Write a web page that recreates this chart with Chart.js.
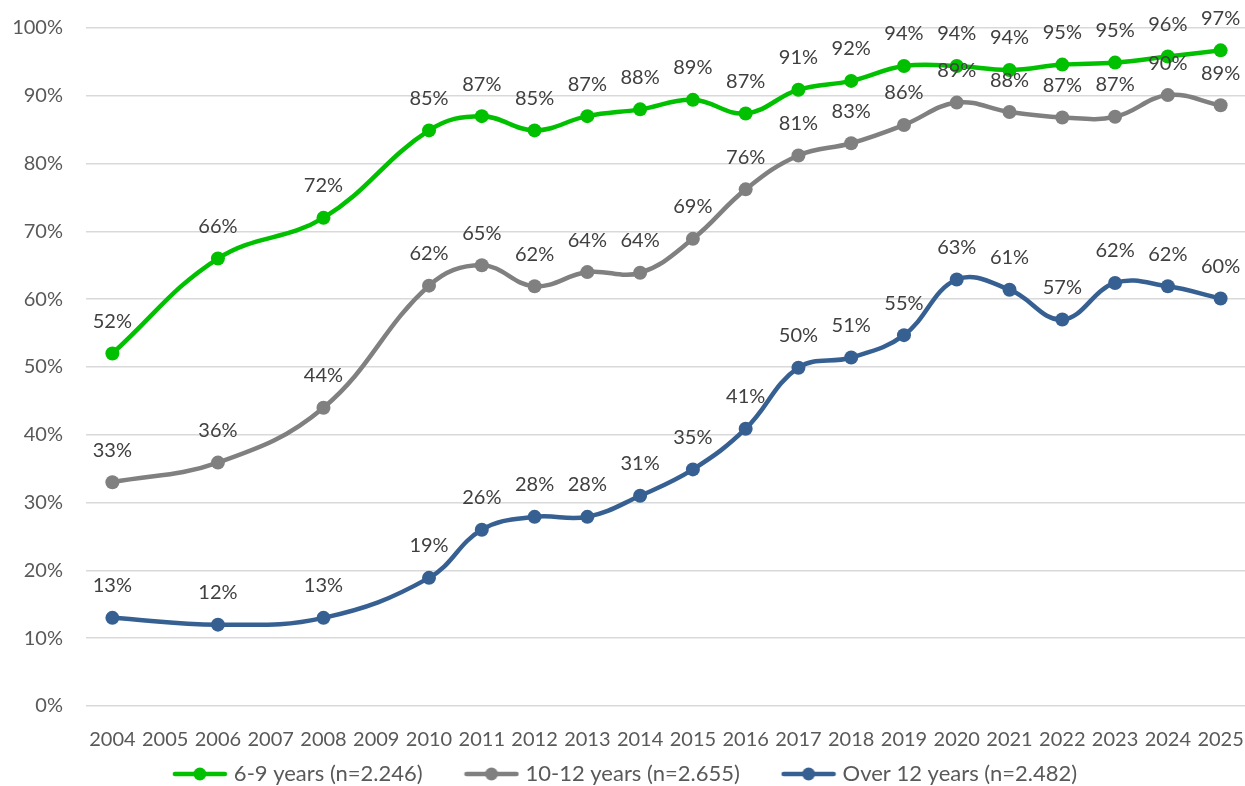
<!DOCTYPE html>
<html>
<head>
<meta charset="utf-8">
<script src="https://cdn.jsdelivr.net/npm/chart.js@4/dist/chart.umd.min.js"></script>
<style>
  html, body { margin: 0; padding: 0; background: #ffffff; overflow: hidden; }
  #wrap { width: 1245px; height: 786px; position: relative; overflow: hidden; }
</style>
</head>
<body>
<div id="wrap"><canvas id="c" width="1254" height="795"></canvas></div>
<script>
const years = ['2004','2005','2006','2007','2008','2009','2010','2011','2012','2013','2014','2015','2016','2017','2018','2019','2020','2021','2022','2023','2024','2025'];
const seriesNames = ['6-9 years (n=2.246)', '10-12 years (n=2.655)', 'Over 12 years (n=2.482)'];
const age6to9 = [52, null, 66, null, 72, null, 84.9, 87.0, 84.9, 87.0, 88.0, 89.4, 87.4, 90.9, 92.2, 94.4, 94.4, 93.8, 94.6, 94.9, 95.8, 96.7];
const age10to12 = [33, null, 35.9, null, 44, null, 62.0, 65.0, 61.9, 64.0, 63.9, 68.9, 76.2, 81.2, 83.0, 85.7, 89.0, 87.6, 86.8, 86.9, 90.1, 88.6];
const over12 = [13, null, 12, null, 13, null, 18.9, 26, 27.9, 27.9, 31, 34.9, 40.9, 49.9, 51.4, 54.7, 62.9, 61.4, 57, 62.4, 61.9, 60.1];
const yTicks = [0, 10, 20, 30, 40, 50, 60, 70, 80, 90, 100];

const colors = ['#00C000', '#808080', '#376092'];
const FONT = 'Lato, "Open Sans", "Liberation Sans", sans-serif';

function legendIcon(color) {
  const cv = document.createElement('canvas');
  cv.width = 56; cv.height = 16;
  const g = cv.getContext('2d');
  g.strokeStyle = color; g.lineWidth = 4.5; g.lineCap = 'round';
  g.beginPath(); g.moveTo(3, 8); g.lineTo(53, 8); g.stroke();
  g.fillStyle = color;
  g.beginPath(); g.arc(28, 8, 6.5, 0, Math.PI * 2); g.fill();
  return cv;
}

const labelPlugin = {
  id: 'valueLabels',
  afterDatasetsDraw(chart) {
    const ctx = chart.ctx;
    ctx.save();
    ctx.font = '20px ' + FONT;
    ctx.fillStyle = '#404040';
    ctx.textAlign = 'center';
    ctx.textBaseline = 'middle';
    chart.data.datasets.forEach((ds, i) => {
      const meta = chart.getDatasetMeta(i);
      meta.data.forEach((pt, j) => {
        const v = ds.data[j];
        if (v === null || v === undefined) return;
        ctx.fillText(Math.round(v) + '%', pt.x, pt.y - 32);
      });
    });
    ctx.restore();
  }
};

const icons = colors.map(legendIcon);
const dataSets = [age6to9, age10to12, over12].map((arr, i) => ({
  label: seriesNames[i],
  data: arr,
  borderColor: colors[i],
  backgroundColor: colors[i],
  borderWidth: 4.5,
  pointRadius: 7,
  pointHoverRadius: 7,
  pointBackgroundColor: colors[i],
  pointBorderWidth: 0,
  pointStyle: 'circle',
  tension: 0.4,
  spanGaps: true,
  fill: false
}));

new Chart(document.getElementById('c'), {
  type: 'line',
  data: { labels: years, datasets: dataSets },
  options: {
    responsive: false,
    animation: false,
    devicePixelRatio: 1,
    layout: { padding: { top: 28, right: 0, left: 0, bottom: 0 } },
    plugins: {
      tooltip: { enabled: false },
      legend: {
        position: 'bottom',
        labels: {
          usePointStyle: true,
          pointStyleWidth: 46,
          color: '#595959',
          font: { size: 22, family: FONT },
          padding: 10,
          generateLabels(chart) {
            return chart.data.datasets.map((d, i) => ({
              text: d.label + (i < 2 ? '\u2003\u2003\u2009' : ''),
              fillStyle: d.borderColor,
              strokeStyle: d.borderColor,
              lineWidth: 0,
              pointStyle: icons[i],
              hidden: false,
              datasetIndex: i,
              fontColor: '#595959'
            }));
          }
        }
      }
    },
    scales: {
      x: {
        offset: true,
        grid: { display: false, drawTicks: false },
        border: { display: false },
        ticks: { color: '#595959', font: { size: 20, family: FONT }, maxRotation: 0, autoSkip: false, padding: 22 },
        afterFit(scale) { scale.height = 47; scale.paddingLeft = 0; scale.paddingRight = 0; }
      },
      y: {
        min: 0, max: 100,
        afterBuildTicks(axis) { axis.ticks = yTicks.map(v => ({ value: v })); },
        grid: { color: '#d9d9d9', lineWidth: 1.5, drawTicks: false },
        border: { display: false },
        ticks: { color: '#595959', font: { size: 20, family: FONT }, padding: 23, callback: v => v + '%' },
        afterFit(scale) { scale.width = 86; scale.paddingTop = 0; scale.paddingBottom = 0; }
      }
    }
  },
  plugins: [labelPlugin]
});
</script>
</body>
</html>
